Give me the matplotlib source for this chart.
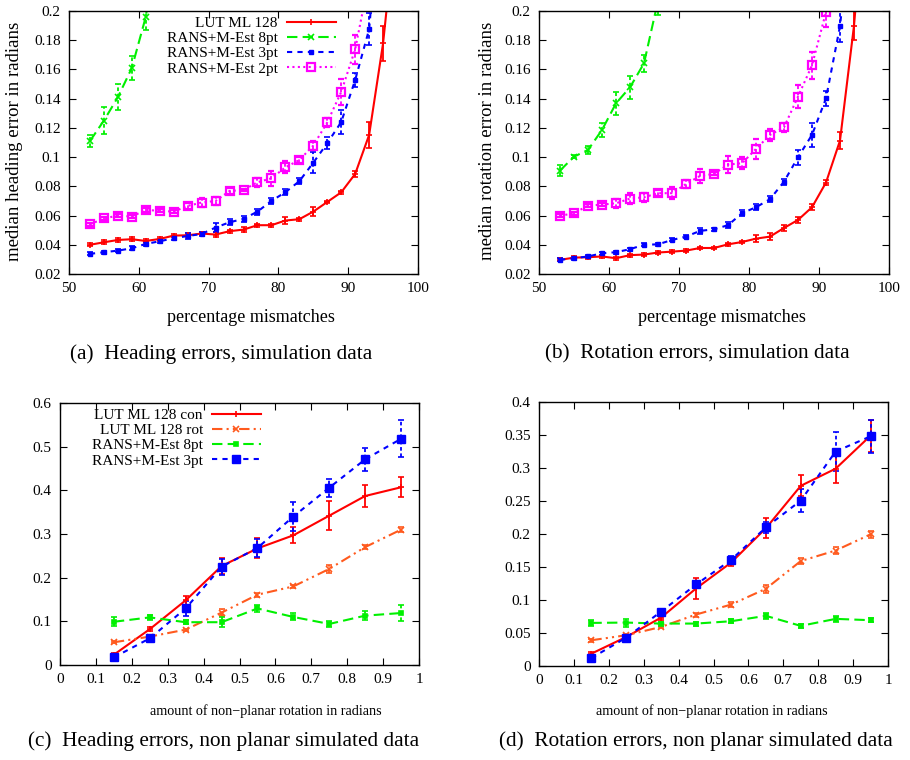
import matplotlib
matplotlib.use("Agg")
import matplotlib.pyplot as plt
from matplotlib.ticker import MultipleLocator, FormatStrFormatter

plt.rcParams['font.family'] = ['Liberation Serif', 'DejaVu Serif']

# percentage of mismatches (x axis of the two upper plots)
pct = list(range(53, 99, 2))
# non-planar rotation in radians (x axis of the two lower plots)
rot = [0.15, 0.25, 0.35, 0.45, 0.55, 0.65, 0.75, 0.85, 0.95]

labels_sim = ['LUT ML 128', 'RANS+M-Est 8pt', 'RANS+M-Est 3pt', 'RANS+M-Est 2pt']
labels_np = ['LUT ML 128 con', 'LUT ML 128 rot', 'RANS+M-Est 8pt', 'RANS+M-Est 3pt']

# heading errors, simulation data
head_lut = [0.040, 0.0417, 0.0433, 0.0438, 0.0426, 0.044, 0.0463, 0.0465, 0.0477, 0.047, 0.0493, 0.0504,
            0.0534, 0.0534, 0.0566, 0.0575, 0.0627, 0.0693, 0.0759, 0.0885, 0.1152, 0.178, 0.27]
head_lut_err = [0.001, 0.0015, 0.0015, 0.0015, 0.0015, 0.0015, 0.001, 0.0015, 0.001, 0.002, 0.001, 0.0015,
                0.001, 0.001, 0.0025, 0.001, 0.003, 0.001, 0.001, 0.002, 0.009, 0.012, 0.02]
head_8pt = [0.111, 0.125, 0.141, 0.161, 0.196, 0.26]
head_8pt_err = [0.004, 0.009, 0.009, 0.008, 0.009, 0.02]
head_3pt = [0.0338, 0.0349, 0.036, 0.0376, 0.0406, 0.0424, 0.0445, 0.046, 0.0474, 0.0518, 0.0554, 0.0577,
            0.0627, 0.070, 0.076, 0.0835, 0.0962, 0.1095, 0.124, 0.1528, 0.1875, 0.30]
head_3pt_err = [0.001, 0.001, 0.001, 0.0015, 0.0015, 0.001, 0.0015, 0.002, 0.0015, 0.003, 0.002, 0.002,
                0.002, 0.002, 0.002, 0.002, 0.007, 0.004, 0.008, 0.005, 0.011, 0.02]
head_2pt = [0.054, 0.058, 0.060, 0.0593, 0.0639, 0.0632, 0.0627, 0.0666, 0.0689, 0.070, 0.0768, 0.0775,
            0.0828, 0.0855, 0.093, 0.098, 0.1079, 0.1238, 0.1446, 0.1738, 0.222]
head_2pt_err = [0.001, 0.001, 0.001, 0.001, 0.0015, 0.001, 0.001, 0.002, 0.003, 0.003, 0.002, 0.001,
                0.003, 0.005, 0.004, 0.002, 0.003, 0.003, 0.009, 0.01, 0.02]

# rotation errors, simulation data
rot_lut = [0.0297, 0.0312, 0.0315, 0.032, 0.0308, 0.0329, 0.0333, 0.0347, 0.0353, 0.036, 0.0378, 0.0378,
           0.0403, 0.0419, 0.0442, 0.0456, 0.0515, 0.057, 0.0657, 0.0826, 0.1113, 0.19, 0.30]
rot_lut_err = [0.001, 0.001, 0.001, 0.001, 0.001, 0.001, 0.001, 0.001, 0.001, 0.0012, 0.001, 0.001,
               0.0012, 0.001, 0.0025, 0.0025, 0.002, 0.002, 0.002, 0.002, 0.006, 0.01, 0.02]
rot_8pt = [0.0908, 0.1003, 0.1049, 0.1186, 0.1368, 0.1478, 0.1642, 0.207]
rot_8pt_err = [0.004, 0.001, 0.003, 0.005, 0.008, 0.008, 0.006, 0.01]
rot_3pt = [0.0297, 0.0308, 0.032, 0.0342, 0.0349, 0.037, 0.040, 0.0403, 0.0433, 0.0456, 0.0495, 0.0506,
           0.0534, 0.0616, 0.0657, 0.0712, 0.0832, 0.0999, 0.1152, 0.1402, 0.1897, 0.28]
rot_3pt_err = [0.001, 0.001, 0.001, 0.001, 0.001, 0.001, 0.001, 0.001, 0.001, 0.0012, 0.002, 0.001,
               0.002, 0.002, 0.002, 0.002, 0.002, 0.005, 0.008, 0.005, 0.011, 0.02]
rot_2pt = [0.0598, 0.0616, 0.0668, 0.0675, 0.0684, 0.0716, 0.0725, 0.0753, 0.0753, 0.0816, 0.0871, 0.0885,
           0.0949, 0.0958, 0.1056, 0.1152, 0.1204, 0.1414, 0.1628, 0.1993, 0.26]
rot_2pt_err = [0.001, 0.001, 0.001, 0.001, 0.003, 0.004, 0.003, 0.002, 0.004, 0.003, 0.005, 0.001,
               0.006, 0.004, 0.007, 0.004, 0.003, 0.008, 0.009, 0.01, 0.02]

# heading errors, non planar simulated data
np_head_con = [0.0235, 0.082, 0.148, 0.2265, 0.267, 0.297, 0.342, 0.387, 0.407]
np_head_con_err = [0.003, 0.004, 0.01, 0.018, 0.023, 0.018, 0.033, 0.025, 0.023]
np_head_rot = [0.052, 0.065, 0.081, 0.120, 0.161, 0.180, 0.220, 0.270, 0.310]
np_head_rot_err = [0.002, 0.002, 0.002, 0.008, 0.005, 0.003, 0.01, 0.005, 0.006]
np_head_8pt = [0.099, 0.109, 0.098, 0.098, 0.1295, 0.110, 0.094, 0.113, 0.119]
np_head_8pt_err = [0.01, 0.005, 0.005, 0.012, 0.007, 0.008, 0.007, 0.011, 0.018]
np_head_3pt = [0.0174, 0.061, 0.1295, 0.225, 0.268, 0.340, 0.406, 0.471, 0.518]
np_head_3pt_err = [0.002, 0.003, 0.017, 0.018, 0.02, 0.034, 0.021, 0.027, 0.042]

# rotation errors, non planar simulated data
np_rot_con = [0.0187, 0.044, 0.0734, 0.1175, 0.1565, 0.2086, 0.273, 0.299, 0.349]
np_rot_con_err = [0.002, 0.003, 0.004, 0.016, 0.005, 0.015, 0.016, 0.021, 0.024]
np_rot_rot = [0.039, 0.0466, 0.0592, 0.078, 0.093, 0.117, 0.159, 0.175, 0.1995]
np_rot_rot_err = [0.002, 0.002, 0.002, 0.003, 0.004, 0.006, 0.004, 0.005, 0.005]
np_rot_8pt = [0.0653, 0.0658, 0.0643, 0.0643, 0.0678, 0.076, 0.0608, 0.0714, 0.0694]
np_rot_8pt_err = [0.005, 0.006, 0.003, 0.003, 0.003, 0.005, 0.003, 0.004, 0.003]
np_rot_3pt = [0.012, 0.043, 0.0825, 0.1235, 0.1605, 0.210, 0.2506, 0.325, 0.348]
np_rot_3pt_err = [0.002, 0.003, 0.003, 0.005, 0.006, 0.008, 0.018, 0.03, 0.025]

RED = '#ff0000'
GREEN = '#00f000'
BLUE = '#0000ff'
MAGENTA = '#ff00ff'
ORANGE = '#ff5a1e'

# gnuplot-ish line styles
sty_lut = dict(color=RED, ls='-', marker='+', ms=5, mew=1.2)
sty_rot = dict(color=ORANGE, ls=(0, (5, 2, 1, 2, 1, 2)), marker='x', ms=4, mew=1.2)
sty_8pt = dict(color=GREEN, ls=(0, (5, 2.5)), marker='x', ms=4, mew=1.2)
sty_3pt = dict(color=BLUE, ls=(0, (2.5, 2.5)), marker='s', ms=3.5)
sty_2pt = dict(color=MAGENTA, ls=(0, (1, 1.6)), marker='s', ms=6, mfc='none', mew=1.6)
sty_3pt_big = dict(sty_3pt, ms=5.5)
sty_8pt_sq = dict(sty_8pt, marker='s', ms=3.5)

fig = plt.figure(figsize=(9.1, 7.6), dpi=100)
W, H = 910.0, 760.0


def make_axes(l, t, r, b):
    return fig.add_axes([l / W, 1 - b / H, (r - l) / W, (b - t) / H])


def series(ax, x, y, e, sty):
    n = len(y)
    line, caps, bars = ax.errorbar(x[:n], y, yerr=e, lw=1.5, elinewidth=1.3, capsize=2.5,
                                   capthick=1.2, **sty)
    # error bars follow the dash pattern of their curve, like gnuplot does
    if sty['ls'] != '-':
        bars[0].set_linestyle((0, (2, 1.5)))
    return line


def style_axes(ax):
    ax.tick_params(direction='in', top=True, right=True, length=5, width=0.8,
                   labelsize=11, pad=6)
    for s in ax.spines.values():
        s.set_linewidth(1.0)


def key(ax, handles, labels, anchor):
    ax.legend(handles, labels, loc='upper right', bbox_to_anchor=anchor, frameon=False,
              markerfirst=False, fontsize=11, handlelength=3.2, labelspacing=0.1,
              handletextpad=0.6, borderaxespad=0.2)


ax_a = make_axes(69, 11, 418, 274)
ax_b = make_axes(539, 11, 889, 274)
ax_c = make_axes(60, 403, 419, 665)
ax_d = make_axes(539, 402, 888, 666)

# upper row: simulation data
h = [series(ax_a, pct, head_lut, head_lut_err, sty_lut),
     series(ax_a, pct, head_8pt, head_8pt_err, sty_8pt),
     series(ax_a, pct, head_3pt, head_3pt_err, sty_3pt),
     series(ax_a, pct, head_2pt, head_2pt_err, sty_2pt)]
key(ax_a, h, labels_sim, (0.79, 1.015))

series(ax_b, pct, rot_lut, rot_lut_err, sty_lut)
series(ax_b, pct, rot_8pt, rot_8pt_err, sty_8pt)
series(ax_b, pct, rot_3pt, rot_3pt_err, sty_3pt)
series(ax_b, pct, rot_2pt, rot_2pt_err, sty_2pt)

for ax in (ax_a, ax_b):
    ax.set_xlim(50, 100)
    ax.set_ylim(0.02, 0.2)
    ax.xaxis.set_major_locator(MultipleLocator(10))
    ax.yaxis.set_major_locator(MultipleLocator(0.02))
    ax.yaxis.set_major_formatter(FormatStrFormatter('%g'))
    style_axes(ax)

# lower row: non planar data
h = [series(ax_c, rot, np_head_con, np_head_con_err, sty_lut),
     series(ax_c, rot, np_head_rot, np_head_rot_err, sty_rot),
     series(ax_c, rot, np_head_8pt, np_head_8pt_err, sty_8pt_sq),
     series(ax_c, rot, np_head_3pt, np_head_3pt_err, sty_3pt_big)]
key(ax_c, h, labels_np, (0.585, 1.015))

series(ax_d, rot, np_rot_con, np_rot_con_err, sty_lut)
series(ax_d, rot, np_rot_rot, np_rot_rot_err, sty_rot)
series(ax_d, rot, np_rot_8pt, np_rot_8pt_err, sty_8pt_sq)
series(ax_d, rot, np_rot_3pt, np_rot_3pt_err, sty_3pt_big)

ax_c.set_ylim(0, 0.6)
ax_c.yaxis.set_major_locator(MultipleLocator(0.1))
ax_d.set_ylim(0, 0.4)
ax_d.yaxis.set_major_locator(MultipleLocator(0.05))
for ax in (ax_c, ax_d):
    ax.set_xlim(0, 1)
    ax.xaxis.set_major_locator(MultipleLocator(0.1))
    ax.xaxis.set_major_formatter(FormatStrFormatter('%g'))
    ax.yaxis.set_major_formatter(FormatStrFormatter('%g'))
    style_axes(ax)


# axis titles and sub-captions
def ftext(x, y, s, size, **kw):
    fig.text(x / W, 1 - y / H, s, fontsize=size, ha='center', va='center', **kw)


ftext(15, 141, 'median heading error in radians', 13.5, rotation=90)
ftext(487, 141, 'median rotation error in radians', 13.5, rotation=90)
ftext(251, 317, 'percentage mismatches', 13)
ftext(722, 317, 'percentage mismatches', 13)
ftext(266, 711, 'amount of non\u2212planar rotation in radians', 10.2)
ftext(712, 711, 'amount of non\u2212planar rotation in radians', 10.2)
ftext(221, 354, '(a)  Heading errors, simulation data', 15.3)
ftext(697, 354, '(b)  Rotation errors, simulation data', 15.3)
ftext(224, 741, '(c)  Heading errors, non planar simulated data', 15.3)
ftext(696, 741, '(d)  Rotation errors, non planar simulated data', 15.3)

fig.savefig('out.png', dpi=100)
